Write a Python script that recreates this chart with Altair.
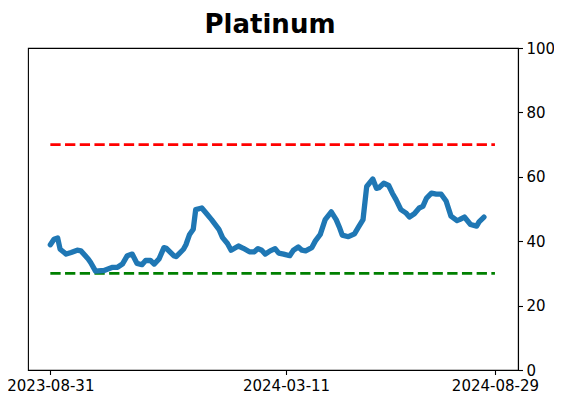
import altair as alt
import pandas as pd

# ---- data ----
dates = [
    "2023-08-31", "2023-09-03", "2023-09-06", "2023-09-08", "2023-09-13", "2023-09-17",
    "2023-09-22", "2023-09-25", "2023-10-01", "2023-10-03", "2023-10-07", "2023-10-14",
    "2023-10-21", "2023-10-25", "2023-10-29", "2023-11-02", "2023-11-06", "2023-11-10",
    "2023-11-14", "2023-11-17", "2023-11-21", "2023-11-24", "2023-11-28", "2023-12-02",
    "2023-12-04", "2023-12-10", "2023-12-12", "2023-12-18", "2023-12-20", "2023-12-23",
    "2023-12-26", "2023-12-28", "2024-01-02", "2024-01-06", "2024-01-10", "2024-01-14",
    "2024-01-16", "2024-01-19", "2024-01-23", "2024-01-26", "2024-02-01", "2024-02-05",
    "2024-02-10", "2024-02-14", "2024-02-17", "2024-02-20", "2024-02-23", "2024-02-27",
    "2024-03-02", "2024-03-05", "2024-03-09", "2024-03-14", "2024-03-17", "2024-03-21",
    "2024-03-24", "2024-03-27", "2024-04-01", "2024-04-04", "2024-04-08", "2024-04-12",
    "2024-04-17", "2024-04-21", "2024-04-24", "2024-04-26", "2024-05-01", "2024-05-06",
    "2024-05-09", "2024-05-13", "2024-05-16", "2024-05-21", "2024-05-24", "2024-05-26",
    "2024-05-30", "2024-06-03", "2024-06-06", "2024-06-09", "2024-06-13", "2024-06-17",
    "2024-06-20", "2024-06-24", "2024-06-28", "2024-07-01", "2024-07-04", "2024-07-08",
    "2024-07-12", "2024-07-16", "2024-07-20", "2024-07-24", "2024-07-29", "2024-07-31",
    "2024-08-04", "2024-08-09", "2024-08-14", "2024-08-16", "2024-08-20",
]
values = [
    38.9, 40.6, 41.0, 37.5, 36.0, 36.5,
    37.2, 37.0, 34.5, 33.4, 30.7, 30.9,
    31.9, 31.9, 32.9, 35.5, 36.0, 33.1,
    32.7, 34.0, 34.0, 32.9, 34.5, 38.0,
    37.8, 35.5, 35.2, 37.5, 38.9, 42.1,
    43.7, 49.8, 50.3, 48.5, 46.7, 44.7,
    43.7, 41.1, 39.3, 37.2, 38.5, 37.8,
    36.7, 36.7, 37.7, 37.2, 36.0, 37.0,
    37.7, 36.3, 36.0, 35.5, 37.2, 38.2,
    37.2, 37.0, 38.0, 40.1, 42.1, 46.7,
    49.1, 46.7, 44.0, 41.9, 41.4, 42.3,
    44.2, 46.7, 57.0, 59.3, 56.4, 56.6,
    58.0, 57.3, 54.9, 52.9, 49.8, 48.8,
    47.5, 48.5, 50.3, 50.8, 53.4, 54.9,
    54.6, 54.6, 52.5, 47.8, 46.4, 46.7,
    47.5, 45.2, 44.7, 46.0, 47.5,
]
ref_levels = [70, 30]
ref_colors = ["#ff0000", "#008000"]
ref_start = "2023-08-31"
ref_end = "2024-08-29"
x_ticks = ["2023-08-31", "2024-03-11", "2024-08-29"]
y_ticks = [0, 20, 40, 60, 80, 100]
title_text = "Platinum"

df = pd.DataFrame({"date": dates, "value": values})
ref_df = pd.DataFrame({
    "start": [ref_start] * len(ref_levels),
    "end": [ref_end] * len(ref_levels),
    "level": ref_levels,
    "color": ref_colors,
})

FONT = "DejaVu Sans"
LABEL_SIZE = 15


def dt(s, hours=0):
    y, m, d = (int(p) for p in s.split("-"))
    return alt.DateTime(year=y, month=m, date=d, hours=hours, utc=True)


x_scale = alt.Scale(type="utc", domain=[dt("2023-08-12", 17), dt("2024-09-16", 21)])
y_scale = alt.Scale(domain=[0, 100], nice=False, zero=False)

x_axis = alt.Axis(
    values=[dt(s) for s in x_ticks],
    labelExpr="utcFormat(datum.value, '%Y-%m-%d')",
    title=None, grid=False, tickSize=4.5, tickColor="black", tickWidth=1.1,
    domainColor="black", domainWidth=1.1, labelFont=FONT, labelFontSize=LABEL_SIZE,
    labelColor="black", labelPadding=4.2, labelFlush=False, labelOverlap=False,
)
y_axis = alt.Axis(
    orient="right", values=y_ticks, title=None, grid=False, tickSize=4.5,
    tickColor="black", tickWidth=1.1, domainColor="black", domainWidth=1.1,
    labelFont=FONT, labelFontSize=LABEL_SIZE, labelColor="black", labelPadding=3.5,
    labelFlush=False, labelOverlap=False,
)

refs = alt.Chart(ref_df).mark_rule(strokeWidth=2.8, strokeDash=[10.3, 4.4]).encode(
    x=alt.X("start:T", scale=x_scale, axis=x_axis),
    x2="end:T",
    y=alt.Y("level:Q", scale=y_scale, axis=y_axis),
    color=alt.Color("color:N", scale=None),
)

line = alt.Chart(df).mark_line(color="#1f77b4", strokeWidth=5.3, strokeCap="round",
                               strokeJoin="round").encode(
    x=alt.X("date:T", scale=x_scale, axis=x_axis),
    y=alt.Y("value:Q", scale=y_scale, axis=y_axis),
)

chart = alt.layer(refs, line).properties(
    width=490,
    height=322,
    background="white",
    title=alt.TitleParams(
        text=title_text, font=FONT, fontSize=26, fontWeight="bold", color="black",
        anchor="middle", offset=3, dx=-3,
    ),
    autosize=alt.AutoSizeParams(type="none"),
    padding={"left": 20, "top": 40, "right": 36, "bottom": 24},
).configure_view(stroke="black", strokeWidth=1.1)

chart.save("out.html", embed_options={"renderer": "svg", "actions": False})
